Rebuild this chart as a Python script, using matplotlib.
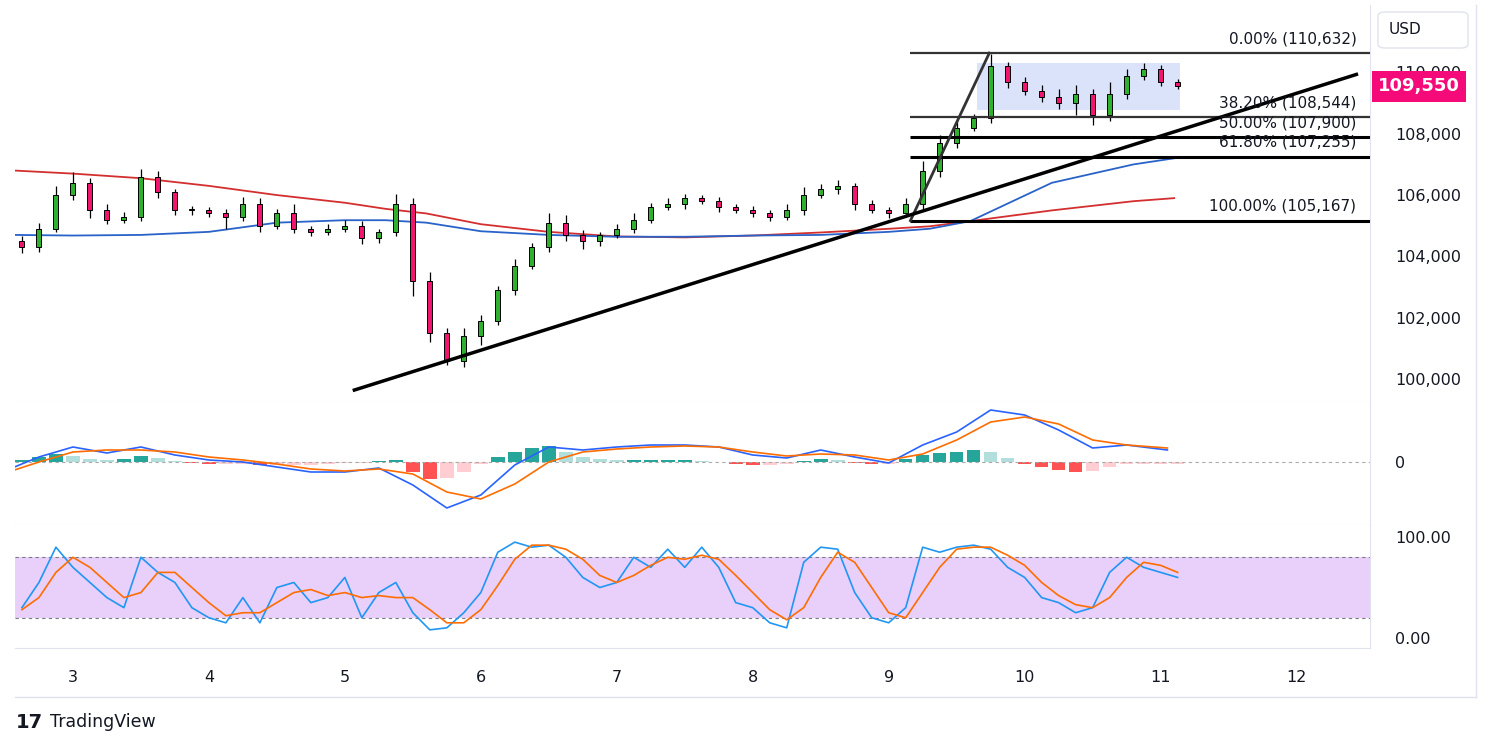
import numpy as np
import matplotlib.pyplot as plt
from matplotlib.patches import Rectangle, FancyBboxPatch

# ---- data, 3-hour steps starting day 2.625 ----
t0, step = 2.625, 0.125
closes = [104300, 104900, 106000, 106400, 105500, 105200, 105300, 106600, 106100, 105500,
          105500, 105400, 105300, 105700, 105000, 105400, 104900, 104800, 104900, 105000,
          104600, 104800, 105700, 103200, 101500, 100600, 101400, 101900, 102900, 103700,
          104300, 105100, 104700, 104500, 104700, 104900, 105200, 105600, 105700, 105900,
          105800, 105600, 105500, 105400, 105300, 105500, 106000, 106200, 106300, 105700,
          105500, 105400, 105700, 106800, 107700, 108200, 108500, 110200, 109700, 109400,
          109200, 109000, 109300, 108600, 109300, 109900, 110100, 109700, 109550]
first_open = 104500
wick_up = [150, 200, 300, 350, 150, 200, 150, 250, 200, 100, 150, 100, 150, 250, 200, 150, 300, 100, 150, 200,
           150, 100, 350, 200, 300, 150, 250, 200, 150, 200, 150, 300, 250, 150, 100, 150, 200, 150, 200, 150,
           100, 150, 100, 150, 100, 200, 250, 150, 200, 100, 150, 100, 200, 300, 250, 200, 150, 400, 150, 150,
           200, 250, 300, 150, 400, 200, 200, 150, 100]
wick_dn = [200, 150, 100, 150, 250, 150, 100, 150, 200, 150, 150, 100, 400, 150, 200, 100, 150, 150, 100, 100,
           200, 150, 150, 500, 300, 150, 200, 300, 150, 150, 100, 150, 200, 250, 150, 100, 150, 100, 100, 150,
           100, 150, 100, 100, 150, 100, 150, 100, 150, 200, 100, 150, 100, 150, 200, 150, 100, 150, 200, 150,
           150, 200, 400, 300, 200, 150, 150, 150, 100]

ma_days = [2.57, 3.0, 3.5, 4.0, 4.5, 5.0, 5.3, 5.6, 6.0, 6.5, 7.0, 7.5, 8.0, 8.5, 9.0, 9.3, 9.6, 10.2, 10.8, 11.1]
ma_red = [106800, 106700, 106550, 106300, 106000, 105750, 105550, 105400, 105050, 104800,
          104650, 104620, 104680, 104780, 104900, 104980, 105150, 105500, 105800, 105900]
ma_blue = [104700, 104680, 104700, 104800, 105100, 105180, 105180, 105100, 104820, 104700,
           104640, 104640, 104680, 104700, 104800, 104900, 105150, 106400, 107000, 107200]

osc_days = [2.57, 2.75, 3.0, 3.25, 3.5, 3.75, 4.0, 4.25, 4.5, 4.75, 5.0, 5.25, 5.5, 5.75, 6.0, 6.25, 6.5, 6.75,
            7.0, 7.25, 7.5, 7.75, 8.0, 8.25, 8.5, 8.75, 9.0, 9.25, 9.5, 9.75, 10.0, 10.25, 10.5, 10.75, 11.05]
macd = [-5, 5, 15, 9, 15, 7, 2, 0, -5, -10, -10, -6, -23, -46, -33, -3, 15, 12,
        15, 17, 17, 15, 7, 4, 12, 5, -1, 17, 30, 52, 47, 32, 14, 17, 12]
signal = [-8, 0, 10, 12, 12, 10, 5, 2, -2, -7, -9, -7, -12, -30, -37, -22, 0, 10,
          13, 15, 16, 15, 10, 6, 8, 7, 2, 8, 22, 40, 45, 38, 22, 17, 14]
hist = [2, 5, 8, 6, 3, 2, 3, 6, 4, 1, -1, -2, -2, -2, -3, -3, -3, -3, -2, -1,
        -1, 1, 2, -10, -17, -16, -10, -2, 5, 10, 14, 16, 10, 5, 3, 2, 2, 2, 2, 2,
        1, 0, -2, -3, -3, -2, 1, 3, 2, -1, -2, -2, 3, 7, 9, 10, 12, 10, 4, -2,
        -5, -8, -10, -9, -5, -2, -2, -2, -2]

stoch_k = [30, 55, 90, 70, 55, 40, 30, 80, 65, 55, 30, 20, 15, 40, 15, 50, 55, 35, 40, 60,
           20, 45, 55, 25, 8, 10, 25, 45, 85, 95, 90, 92, 80, 60, 50, 55, 80, 70, 88, 70,
           90, 70, 35, 30, 15, 10, 75, 90, 88, 45, 20, 15, 30, 90, 85, 90, 92, 88, 70, 60,
           40, 35, 25, 30, 65, 80, 70, 65, 60]
stoch_d = [28, 40, 65, 80, 70, 55, 40, 45, 65, 65, 50, 35, 22, 25, 25, 35, 45, 48, 42, 45,
           40, 42, 40, 40, 28, 15, 15, 28, 52, 78, 92, 92, 88, 78, 62, 55, 62, 72, 80, 78,
           82, 78, 62, 45, 28, 18, 30, 60, 85, 75, 50, 25, 20, 45, 70, 88, 90, 90, 82, 72,
           55, 42, 33, 30, 40, 60, 75, 72, 65]

fib_levels = [110632, 108544, 107900, 107255, 105167]
fib_names = ["0.00%", "38.20%", "50.00%", "61.80%", "100.00%"]
price_ticks = [100000, 102000, 104000, 106000, 108000, 110000]
day_ticks = [3, 4, 5, 6, 7, 8, 9, 10, 11, 12]
last_price = 109550

W, H = 1491, 750
fig = plt.figure(figsize=(W / 100, H / 100), dpi=100)
plt.rcParams['font.family'] = 'DejaVu Sans'

def box(top, bot, left=15, right=1370):
    return [left / W, 1 - bot / H, (right - left) / W, (bot - top) / H]

xlim = (2.574, 12.54)
ax = fig.add_axes(box(5, 402))
ax2 = fig.add_axes(box(402, 525))
ax3 = fig.add_axes(box(525, 648))
for a in (ax, ax2, ax3):
    a.set_xlim(*xlim)
    for s in a.spines.values():
        s.set_color('#e0e3eb')
    a.spines['left'].set_visible(False)
    a.spines['top'].set_visible(False)
    a.yaxis.tick_right()
    a.tick_params(axis='y', length=0, labelsize=11.5, labelcolor='#131722', pad=18)
    a.tick_params(axis='x', length=0)
    a.set_xticks([])

# ---- price panel ----
ax.set_ylim(99250, 112200)
ax.set_yticks(price_ticks)
ax.set_yticklabels([f"{v:,}" for v in price_ticks])
t = t0 + step * np.arange(len(closes))
opens = [first_open] + closes[:-1]
for ti, o, c, wu, wd in zip(t, opens, closes, wick_up, wick_dn):
    col = '#2fb12f' if c >= o else '#f0156e'
    ax.vlines(ti, min(o, c) - wd, max(o, c) + wu, color='black', lw=0.9, zorder=3)
    ax.add_patch(Rectangle((ti - 0.018, min(o, c)), 0.036, max(abs(c - o), 40),
                           facecolor=col, edgecolor='black', lw=0.7, zorder=4))
ax.plot(ma_days, ma_red, color='#d32f2f', lw=1.3, zorder=2)
ax.plot(ma_days, ma_blue, color='#2962c8', lw=1.3, zorder=2)

# consolidation box
ax.add_patch(Rectangle((9.65, 108790), 1.49, 1510, facecolor='#dbe3fb', edgecolor='none', zorder=1))

# fib levels
for lvl, nm in zip(fib_levels, fib_names):
    lw = 1.6 if nm in ("0.00%", "38.20%") else 2.2
    colr = '#333' if nm in ("0.00%", "38.20%") else 'black'
    ax.hlines(lvl, 9.16, xlim[1], color=colr, lw=lw, zorder=5)
    ax.text(12.44, lvl + 220, f"{nm} ({lvl:,})", ha='right', va='bottom', fontsize=11, color='#131722', zorder=6)
ax.plot([9.16, 9.74], [105167, 110632], color='#333', lw=2, zorder=5)
ax.plot([5.07, 12.44], [99640, 109935], color='black', lw=2.5, zorder=5)

# last price label (covers part of the 110,000 tick, as in the original)
ax.text(1.006, (last_price - 99250) / (112200 - 99250), f"{last_price:,}", transform=ax.transAxes,
        ha='left', va='center', fontsize=13, color='white', fontweight='bold', zorder=10,
        bbox=dict(boxstyle='square,pad=0.35', fc='#f50a7a', ec='none'))
fig.patches.append(FancyBboxPatch((1378 / W, 1 - 48 / H), 90 / W, 36 / H, boxstyle='round,pad=0,rounding_size=0.005',
                                  transform=fig.transFigure, fc='white', ec='#e0e3eb', lw=1))
fig.text(1389 / W, 1 - 30 / H, "USD", fontsize=11, va='center', color='#131722')

# ---- MACD panel ----
ax2.set_ylim(-63, 60)
ax2.set_yticks([0])
ax2.axhline(0, color='#aaaaaa', lw=0.8, ls=(0, (3, 3)))
prev = 0
for ti, h in zip(t, hist):
    if h >= 0:
        col = '#26a69a' if h >= prev else '#b2dfdb'
    else:
        col = '#ff5252' if h < prev else '#ffcdd2'
    ax2.bar(ti, h, width=0.1, color=col)
    prev = h
ax2.plot(osc_days, macd, color='#2962ff', lw=1.2)
ax2.plot(osc_days, signal, color='#ff6d00', lw=1.2)

# ---- Stochastic panel ----
ax3.set_ylim(-10, 112)
ax3.set_yticks([0, 100])
ax3.set_yticklabels(["0.00", "100.00"])
ax3.axhspan(20, 80, color='#e8d0fb', lw=0)
for lv in (20, 80):
    ax3.axhline(lv, color='#787b86', lw=0.8, ls=(0, (3, 3)))
ax3.plot(t, stoch_k, color='#2196f3', lw=1.2)
ax3.plot(t, stoch_d, color='#ff6d00', lw=1.2)
ax3.set_xticks(day_ticks)
ax3.set_xticklabels([str(d) for d in day_ticks], fontsize=11.5, color='#131722')
ax3.tick_params(axis='x', pad=16)

# frame lines
fig.add_artist(plt.Line2D([15 / W, 1476 / W], [1 - 697 / H] * 2, color='#e0e3eb', lw=1))
fig.add_artist(plt.Line2D([1476 / W] * 2, [1 - 5 / H, 1 - 697 / H], color='#e0e3eb', lw=1))

fig.text(16 / W, 1 - 722 / H, "17", fontsize=14, fontweight='bold', va='center', color='#131722')
fig.text(50 / W, 1 - 722 / H, "TradingView", fontsize=12.5, va='center', color='#131722')

fig.savefig('out.png', dpi=100, facecolor='white')
